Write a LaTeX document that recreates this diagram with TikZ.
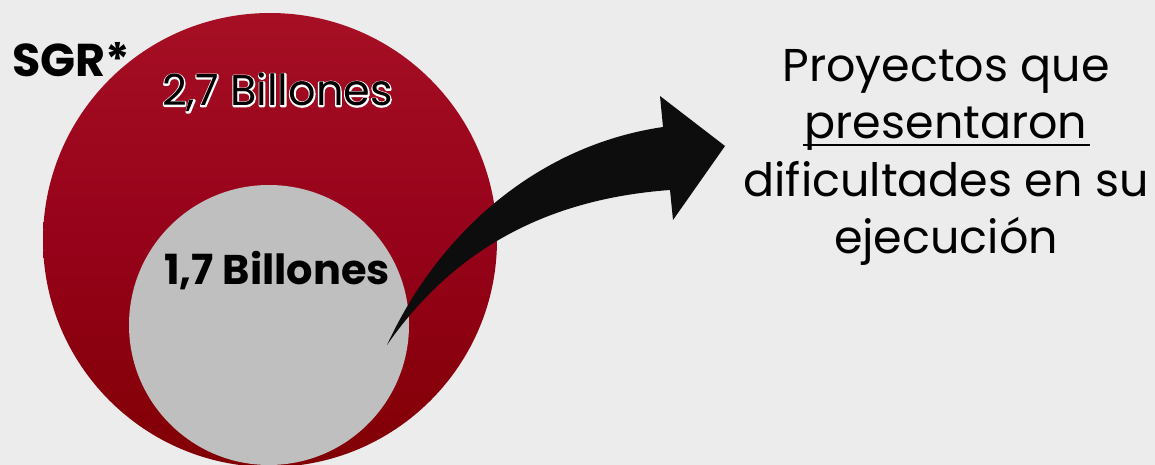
\documentclass[tikz,border=0pt]{standalone}
\usepackage{fontspec}
\setmainfont{Poppins}
\definecolor{bgc}{HTML}{ECECEC}
\definecolor{redtop}{RGB}{166,15,36}
\definecolor{redmid}{RGB}{150,2,26}
\definecolor{redbot}{RGB}{128,0,4}
\definecolor{graycirc}{HTML}{BFBFBF}
\definecolor{arrowc}{HTML}{0D0D0D}
\newcommand\myoutline[1]{\special{pdf:code 1 1 1 RG 2.8 w 1 j 1 Tr}\rlap{#1}\special{pdf:code 0 Tr 0 0 0 RG 0.4 w 0 j}#1}
\tikzset{
  lbl/.style={inner sep=0pt, anchor=base west},
  rtext/.style={inner sep=0pt, anchor=base, font=\fontsize{46}{57}\selectfont},
}
\begin{document}
\begin{tikzpicture}[x=1pt,y=-1pt]
\useasboundingbox (0,0) rectangle (1155,465);
\fill[bgc] (0,0) rectangle (1155,465);
\begin{scope}
\clip (0,0) rectangle (1155,465);
\shade[top color=redtop, bottom color=redbot, middle color=redmid] (270,240) circle[radius=227];
\fill[graycirc] (269,325) circle[radius=140];
\end{scope}
\node[lbl, font=\fontsize{46}{46}\selectfont\bfseries] (sgr) at (12,77) {SGR*};
\node[lbl, font=\fontsize{43}{43}\selectfont, text=black] (big) at (162,106) {\myoutline{2,7 Billones}};
\node[lbl, font=\fontsize{41.5}{41.5}\selectfont\bfseries] (small) at (164,284) {1,7 Billones};
\fill[arrowc] (387,345) .. controls (440,230) and (540,145) .. (663,127)
  -- (660,96) -- (725,146) -- (673,220) -- (670,190)
  .. controls (560,198) and (460,240) .. (387,345) -- cycle;
\node[rtext] (l1) at (946,82) {Proyectos que};
\node[rtext] (l2) at (946,139) {presentaron};
\draw[line width=2pt] ([xshift=-2pt,yshift=-6pt]l2.base west) -- ([xshift=2pt,yshift=-6pt]l2.base east);
\node[rtext] (l3) at (946,196) {dificultades en su};
\node[rtext] (l4) at (946,253) {ejecución};
\end{tikzpicture}
\end{document}
